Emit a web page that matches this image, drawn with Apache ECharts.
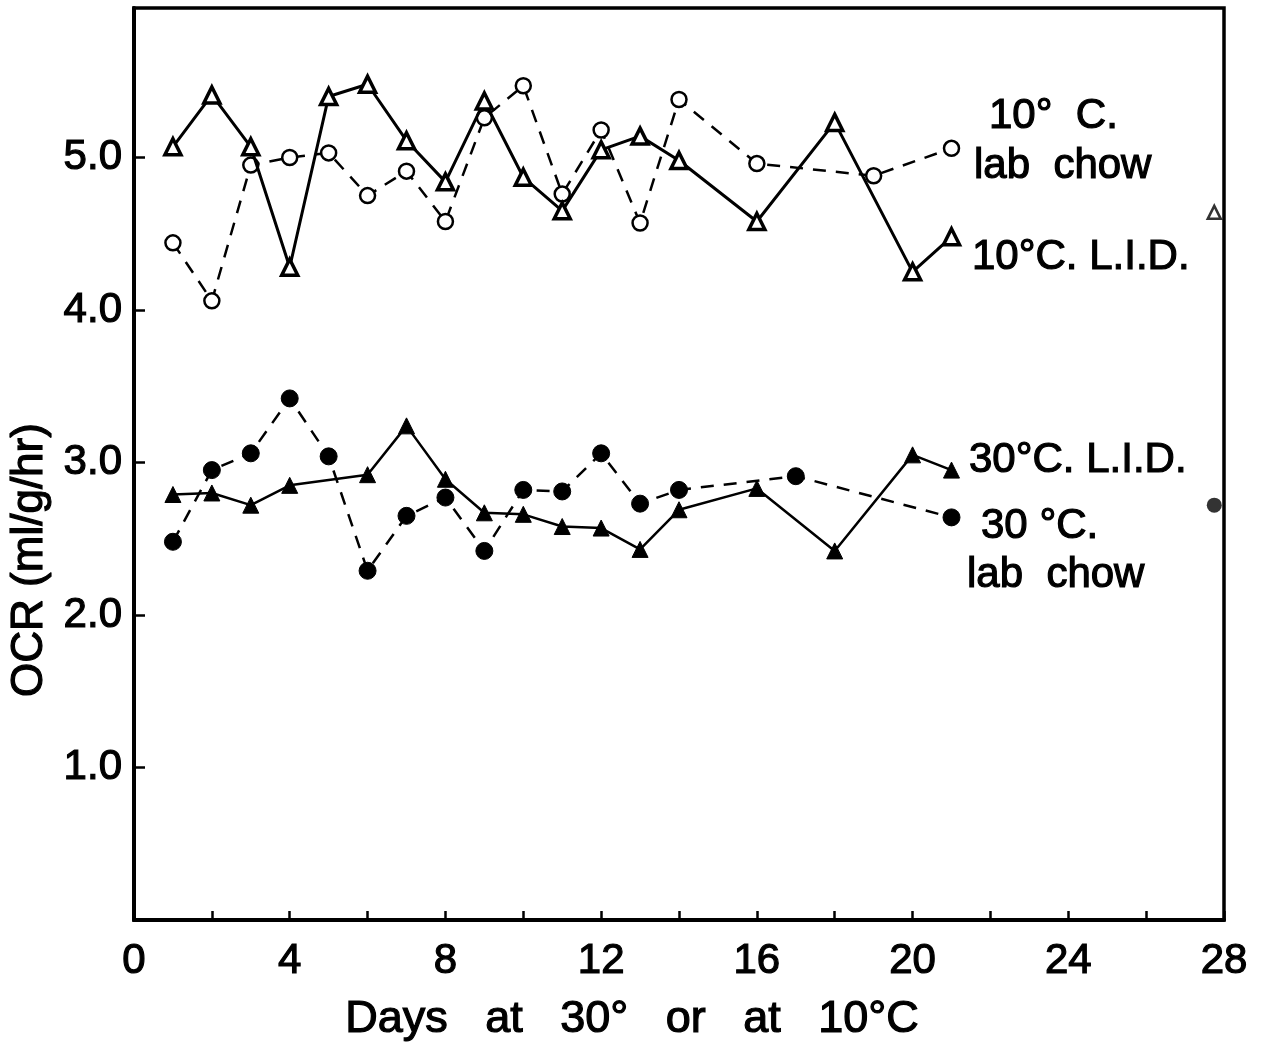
<!DOCTYPE html>
<html>
<head>
<meta charset="utf-8">
<script src="https://cdn.jsdelivr.net/npm/echarts@6/dist/echarts.min.js"></script>
<style>
html,body{margin:0;padding:0;background:#fff;}
#chart{width:1266px;height:1051px;}
</style>
</head>
<body>
<div id="chart"></div>
<script>
// 10°C L.I.D. (open triangles, solid line)
const days10Lid = [1,2,3,4,5,6,7,8,9,10,11,12,13,14,16,18,20,21];
const ocr10Lid  = [5.07,5.41,5.07,4.28,5.40,5.48,5.11,4.84,5.37,4.87,4.65,5.05,5.14,4.98,4.58,5.23,4.25,4.48];
// 10°C lab chow (open circles, dashed line)
const days10Chow = [1,2,3,4,5,6,7,8,9,10,11,12,13,14,16,19,21];
const ocr10Chow  = [4.44,4.06,4.95,5.00,5.03,4.75,4.91,4.58,5.26,5.47,4.76,5.18,4.57,5.38,4.96,4.88,5.06];
// 30°C L.I.D. (filled triangles, solid line)
const days30Lid = [1,2,3,4,6,7,8,9,10,11,12,13,14,16,18,20,21];
const ocr30Lid  = [2.79,2.80,2.72,2.85,2.92,3.24,2.89,2.67,2.66,2.58,2.57,2.43,2.69,2.83,2.42,3.05,2.95];
// 30°C lab chow (filled circles, dashed line)
const days30Chow = [1,2,3,4,5,6,7,8,9,10,11,12,13,14,17,21];
const ocr30Chow  = [2.48,2.95,3.06,3.42,3.04,2.29,2.65,2.77,2.42,2.82,2.81,3.06,2.73,2.82,2.91,2.64];
// isolated points near day 28
const dayLone = [27.75];
const ocr10LidLone = [4.64];
const ocr30ChowLone = [2.72];

const xLabels = [0,4,8,12,16,20,24,28];
const yLabels = [1,2,3,4,5];

const FONT = '"Liberation Sans", Arial, sans-serif';
const BOLD = { textBorderColor: '#000', textBorderWidth: 1.2 };
const zip = (xs, ys) => xs.map((x, i) => [x, ys[i]]);
const txt = (text, x, y, size, align, extra) => Object.assign({
  type: 'text', x: x, y: y,
  style: Object.assign({ text: text, fontSize: size, fontFamily: FONT, fill: '#000',
    stroke: '#000', lineWidth: 1.2, align: align, verticalAlign: 'middle' })
}, extra || {});

const chart = echarts.init(document.getElementById('chart'));
const option = {
  backgroundColor: '#fff',
  animation: false,
  grid: { left: 134, right: 42, top: 8, bottom: 131, show: true, borderColor: '#000', borderWidth: 3.5 },
  xAxis: {
    type: 'value', min: 0, max: 28, interval: 2,
    axisLine: { show: true, lineStyle: { color: '#000', width: 4 } },
    axisTick: { show: true, inside: true, length: 9, lineStyle: { color: '#000', width: 2.5 } },
    axisLabel: Object.assign({
      margin: 20, color: '#000', fontSize: 42, fontFamily: FONT,
      formatter: v => xLabels.includes(v) ? String(v) : ''
    }, BOLD),
    splitLine: { show: false }
  },
  yAxis: {
    type: 'value', min: 0, max: 5.98, interval: 1,
    axisLine: { show: true, lineStyle: { color: '#000', width: 4 } },
    axisTick: { show: true, inside: true, length: 11, lineStyle: { color: '#000', width: 2.5 } },
    axisLabel: Object.assign({
      margin: 12, color: '#000', fontSize: 42, fontFamily: FONT, showMaxLabel: false,
      formatter: v => yLabels.includes(v) ? v.toFixed(1) : ''
    }, BOLD),
    splitLine: { show: false }
  },
  series: [
    {
      name: '10°C lab chow', type: 'line', data: zip(days10Chow, ocr10Chow),
      symbol: 'circle', symbolSize: 15,
      lineStyle: { color: '#000', width: 2.5, type: [13, 10] },
      itemStyle: { color: '#fff', borderColor: '#000', borderWidth: 2.5 }, z: 3
    },
    {
      name: '10°C L.I.D.', type: 'line', data: zip(days10Lid, ocr10Lid),
      symbol: 'triangle', symbolSize: 16,
      lineStyle: { color: '#000', width: 3, type: 'solid' },
      itemStyle: { color: '#fff', borderColor: '#000', borderWidth: 3.5 }, z: 4
    },
    {
      name: '30°C L.I.D.', type: 'line', data: zip(days30Lid, ocr30Lid),
      symbol: 'triangle', symbolSize: 16,
      lineStyle: { color: '#000', width: 2.5, type: 'solid' },
      itemStyle: { color: '#000', borderColor: '#000', borderWidth: 1 }, z: 4
    },
    {
      name: '30°C lab chow', type: 'line', data: zip(days30Chow, ocr30Chow),
      symbol: 'circle', symbolSize: 17,
      lineStyle: { color: '#000', width: 2.5, type: [13, 10] },
      itemStyle: { color: '#000', borderColor: '#000', borderWidth: 1 }, z: 3
    },
    {
      type: 'scatter', data: zip(dayLone, ocr10LidLone), symbol: 'triangle', symbolSize: 13,
      itemStyle: { color: '#fff', borderColor: '#000', borderWidth: 2.5 }
    },
    {
      type: 'scatter', data: zip(dayLone, ocr30ChowLone), symbol: 'circle', symbolSize: 15,
      itemStyle: { color: '#000' }
    }
  ],
  graphic: [
    txt('OCR (ml/g/hr)', 30, 560, 44, 'center', { rotation: Math.PI / 2 }),
    txt('Days   at   30°   or   at   10°C', 632, 1020, 45, 'center'),
    txt('10°  C.', 989, 116, 42, 'left'),
    txt('lab  chow', 974, 166, 42, 'left'),
    txt('10°C. L.I.D.', 972, 257, 42, 'left'),
    txt('30°C. L.I.D.', 969, 460, 42, 'left'),
    txt('30 °C.', 981, 526, 42, 'left'),
    txt('lab  chow', 967, 575, 42, 'left')
  ]
};
chart.setOption(option);
</script>
</body>
</html>
